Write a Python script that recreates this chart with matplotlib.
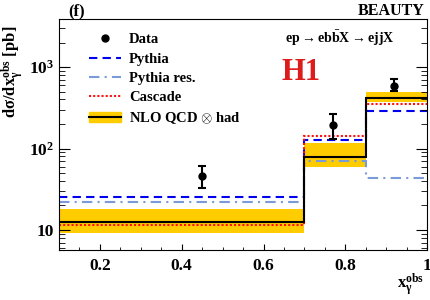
import matplotlib
matplotlib.use('Agg')
import matplotlib.pyplot as plt
from matplotlib.patches import Patch
from matplotlib.lines import Line2D

# Bin edges in x_gamma^obs and cross sections in pb
edges = [0.1, 0.7, 0.85, 1.0]
nlo = [12.6, 79, 420]
nlo_up = [18.1, 116, 490]
nlo_dn = [9.3, 59, 372]
pythia = [25.4, 126, 291]
pythia_res = [22.2, 70, 43]
cascade = [11.5, 141, 352]

data_x = [0.45, 0.77, 0.92]
data_y = [46, 194, 585]
data_up = [61, 263, 713]
data_dn = [33, 131, 513]

plt.rcParams['font.family'] = ['Liberation Serif', 'DejaVu Serif']
plt.rcParams['font.weight'] = 'bold'
plt.rcParams['mathtext.fontset'] = 'custom'
plt.rcParams['mathtext.rm'] = 'Liberation Serif:bold'
plt.rcParams['mathtext.it'] = 'Liberation Serif:bold'
plt.rcParams['mathtext.bf'] = 'Liberation Serif:bold'

fig = plt.figure(figsize=(4.31, 3.0), dpi=100)
ax = fig.add_axes([0.137, 0.167, 0.854, 0.770])

gold = '#ffcc00'
ax.stairs(nlo_up, edges, baseline=nlo_dn, fill=True, color=gold, lw=0)
ax.stairs(pythia, edges, baseline=None, color='#0000ee', ls=(0, (4, 2.5)), lw=1.5)
ax.stairs(pythia_res, edges, baseline=None, color='#7b9ad8', ls=(0, (5, 2.5, 1, 2.5)), lw=1.5)
ax.stairs(cascade, edges, baseline=None, color='#ff1111', ls=(0, (1, 1)), lw=1.5)
ax.stairs(nlo, edges, baseline=None, color='black', lw=1.5)

yerr = [[y - d for y, d in zip(data_y, data_dn)], [u - y for y, u in zip(data_y, data_up)]]
ax.errorbar(data_x, data_y, yerr=yerr, fmt='o', color='black', ms=5,
            elinewidth=1.5, capsize=3, capthick=1.5)

ax.set_yscale('log')
ax.set_xlim(0.1, 1.0)
ax.set_ylim(5.7, 3900)
ax.set_xticks([0.2, 0.4, 0.6, 0.8, 1.0])
ax.set_xticklabels(['0.2', '0.4', '0.6', '0.8', '1'])
ax.set_xticks([0.15, 0.25, 0.3, 0.35, 0.45, 0.5, 0.55, 0.65, 0.7, 0.75, 0.85, 0.9, 0.95], minor=True)
ax.set_yticks([10, 100, 1000])
ax.set_yticklabels(['10', r'$10^{2}$', r'$10^{3}$'])
ax.tick_params(axis='both', which='both', direction='in', labelsize=12.5)
ax.tick_params(axis='x', which='major', length=4.5, pad=6)
ax.tick_params(axis='x', which='minor', length=2.5)
ax.tick_params(axis='y', which='major', length=8, right=True)
ax.tick_params(axis='y', which='minor', length=4, right=True)
ax.tick_params(axis='y', which='minor', labelleft=False)

ax.set_ylabel(r'$\mathrm{d\sigma/dx_{\gamma}^{obs}}$ [pb]', fontsize=12, fontweight='bold')
ax.yaxis.set_label_coords(-0.09, 0.77)
ax.set_xlabel(r'$\mathrm{x_{\gamma}^{obs}}$', fontsize=12)
ax.xaxis.set_label_coords(0.955, -0.095)

fig.text(0.158, 0.963, '(f)', fontsize=12, fontweight='bold', va='center')
fig.text(0.985, 0.963, 'BEAUTY', fontsize=11.5, fontweight='bold', ha='right', va='center')
ax.text(0.764, 0.918, r'$\mathrm{ep \rightarrow eb\bar{b}X \rightarrow ejjX}$', transform=ax.transAxes,
        fontsize=10, ha='center', va='center')
ax.text(0.657, 0.77, 'H1', transform=ax.transAxes, fontsize=22, color='#dd1c1c',
        fontweight='bold', ha='center', va='center')

handles = [
    Line2D([], [], color='black', marker='o', ls='none', ms=5),
    Line2D([], [], color='#0000ee', ls=(0, (4, 2.5)), lw=1.5),
    Line2D([], [], color='#7b9ad8', ls=(0, (5, 2.5, 1, 2.5)), lw=1.5),
    Line2D([], [], color='#ff1111', ls=(0, (1, 1)), lw=1.5),
    (Patch(color=gold), Line2D([], [], color='black', lw=1.5)),
]
labels = ['Data', 'Pythia', 'Pythia res.', 'Cascade', r'NLO QCD $\otimes$ had']
ax.legend(handles, labels, loc='upper left', bbox_to_anchor=(0.045, 0.995), frameon=False,
          fontsize=10.5, handlelength=2.2, handletextpad=0.55, labelspacing=0.42)

plt.savefig('out.png', dpi=100)
